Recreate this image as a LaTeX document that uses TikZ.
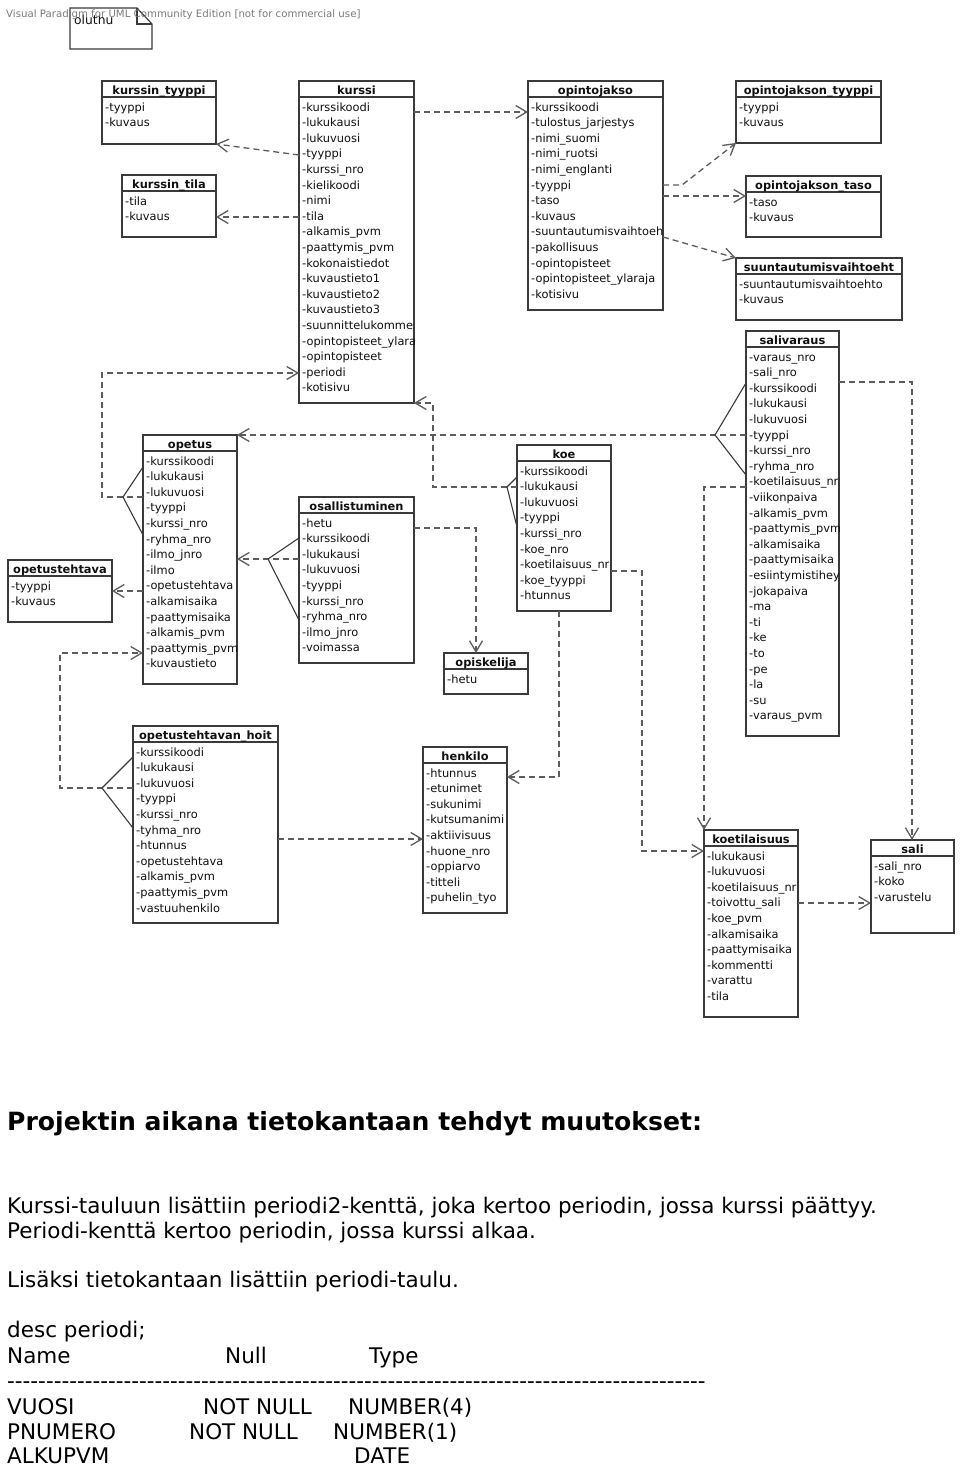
\documentclass[tikz,border=0pt]{standalone}
\usepackage{fontspec}
\setmainfont{DejaVu Sans}
\usetikzlibrary{arrows.meta}
\definecolor{boxline}{HTML}{3A3A3A}
\definecolor{connline}{HTML}{5C5C5C}
\definecolor{txt}{HTML}{101010}
\definecolor{wm}{HTML}{7A7A7A}
\newdimen\titlew
\newcommand\clsfont{\fontsize{11.4}{13}\selectfont}
\newcommand\clstitlefont{\fontsize{11.4}{13}\selectfont\bfseries}
\newcommand\bodyfont{\fontsize{21.5}{25}\selectfont}
\newcommand\dashrow{\foreach \k in {1,...,90}{-\relax}}
\tikzset{
  classbox/.style={draw=boxline, line width=1.3pt, fill=white, inner sep=0pt, outer sep=0pt, rectangle},
  classsep/.style={draw=boxline, line width=1.3pt},
  attr/.style={anchor=base west, inner sep=0pt, font=\clsfont, text=txt},
  ctitle/.style={anchor=base, inner sep=0pt, font=\clstitlefont, text=txt},
  conn/.style={draw=connline, line width=1.3pt, dash pattern=on 6pt off 4pt, -{Straight Barb[length=11pt,width=13pt]}},
  fork/.style={draw=boxline, line width=1.1pt},
  body/.style={anchor=base west, inner sep=0pt, font=\bodyfont, text=black},
}
\newcommand\umlclass[7]{%
  \node[classbox, minimum width={#4-#2}, minimum height={#5-#3}, anchor=north west] (#1) at (#2,#3) {};
  \draw[classsep] (#2,#3+16) -- (#4,#3+16);
  \begin{scope}
    \clip (#2,#3) rectangle (#4,#5);
    \setbox0\hbox{\clstitlefont #6}\titlew=\wd0
    \pgfmathsetmacro\tcx{max((#2+#4)/2,#2+15+0.5*\titlew)}
    \node[ctitle] (#1-title) at (\tcx,#3+13) {#6};
    \foreach \a [count=\i from 0] in {#7}{
      \node[attr] (#1-a\i) at (#2+3,#3+30+15.6*\i) {\a};
    }
  \end{scope}
}
\begin{document}
\begin{tikzpicture}[x=1pt,y=-1pt]
\fill[white] (0,0) rectangle (960,1467);
\useasboundingbox (0,0) rectangle (960,1467);

% note
\draw[boxline, line width=1.2pt, fill=white] (70,8) -- (137,8) -- (152,24) -- (152,49) -- (70,49) -- cycle;
\draw[boxline, line width=1.1pt] (137,8) -- (137,24) -- (152,24);
\node[anchor=base west, inner sep=0pt, font=\fontsize{12.3}{14}\selectfont, text=txt] (note) at (74,24) {oluthu};

% classes
\umlclass{kurssinTyyppi}{102}{81}{216}{144}{kurssin\_tyyppi}{-tyyppi,-kuvaus}
\umlclass{kurssinTila}{122}{175}{216}{237}{kurssin\_tila}{-tila,-kuvaus}
\umlclass{kurssi}{299}{81}{414}{403}{kurssi}{-kurssikoodi,-lukukausi,-lukuvuosi,-tyyppi,-kurssi\_nro,-kielikoodi,-nimi,-tila,-alkamis\_pvm,-paattymis\_pvm,-kokonaistiedot,-kuvaustieto1,-kuvaustieto2,-kuvaustieto3,-suunnittelukomme,-opintopisteet\_ylara,-opintopisteet,-periodi,-kotisivu}
\umlclass{opintojakso}{528}{81}{663}{310}{opintojakso}{-kurssikoodi,-tulostus\_jarjestys,-nimi\_suomi,-nimi\_ruotsi,-nimi\_englanti,-tyyppi,-taso,-kuvaus,-suuntautumisvaihtoeh,-pakollisuus,-opintopisteet,-opintopisteet\_ylaraja,-kotisivu}
\umlclass{ojTyyppi}{736}{81}{881}{143}{opintojakson\_tyyppi}{-tyyppi,-kuvaus}
\umlclass{ojTaso}{746}{176}{881}{237}{opintojakson\_taso}{-taso,-kuvaus}
\umlclass{suunt}{736}{258}{902}{320}{suuntautumisvaihtoeht}{-suuntautumisvaihtoehto,-kuvaus}
\umlclass{salivaraus}{746}{331}{839}{736}{salivaraus}{-varaus\_nro,-sali\_nro,-kurssikoodi,-lukukausi,-lukuvuosi,-tyyppi,-kurssi\_nro,-ryhma\_nro,-koetilaisuus\_nr,-viikonpaiva,-alkamis\_pvm,-paattymis\_pvm,-alkamisaika,-paattymisaika,-esiintymistihey,-jokapaiva,-ma,-ti,-ke,-to,-pe,-la,-su,-varaus\_pvm}
\umlclass{opetus}{143}{435}{237}{684}{opetus}{-kurssikoodi,-lukukausi,-lukuvuosi,-tyyppi,-kurssi\_nro,-ryhma\_nro,-ilmo\_jnro,-ilmo,-opetustehtava,-alkamisaika,-paattymisaika,-alkamis\_pvm,-paattymis\_pvm,-kuvaustieto}
\umlclass{opetustehtava}{8}{560}{112}{622}{opetustehtava}{-tyyppi,-kuvaus}
\umlclass{osallistuminen}{299}{497}{414}{663}{osallistuminen}{-hetu,-kurssikoodi,-lukukausi,-lukuvuosi,-tyyppi,-kurssi\_nro,-ryhma\_nro,-ilmo\_jnro,-voimassa}
\umlclass{opiskelija}{444}{653}{528}{694}{opiskelija}{-hetu}
\umlclass{koe}{517}{445}{611}{611}{koe}{-kurssikoodi,-lukukausi,-lukuvuosi,-tyyppi,-kurssi\_nro,-koe\_nro,-koetilaisuus\_nr,-koe\_tyyppi,-htunnus}
\umlclass{hoito}{133}{726}{278}{923}{opetustehtavan\_hoit}{-kurssikoodi,-lukukausi,-lukuvuosi,-tyyppi,-kurssi\_nro,-tyhma\_nro,-htunnus,-opetustehtava,-alkamis\_pvm,-paattymis\_pvm,-vastuuhenkilo}
\umlclass{henkilo}{423}{747}{507}{913}{henkilo}{-htunnus,-etunimet,-sukunimi,-kutsumanimi,-aktiivisuus,-huone\_nro,-oppiarvo,-titteli,-puhelin\_tyo}
\umlclass{koetilaisuus}{704}{830}{798}{1017}{koetilaisuus}{-lukukausi,-lukuvuosi,-koetilaisuus\_nr,-toivottu\_sali,-koe\_pvm,-alkamisaika,-paattymisaika,-kommentti,-varattu,-tila}
\umlclass{sali}{871}{840}{954}{933}{sali}{-sali\_nro,-koko,-varustelu}

% fork points
\coordinate (f1) at (123,497);
\coordinate (f2) at (507,487);
\coordinate (f3) at (715,435);
\coordinate (f4) at (268,559);
\coordinate (f5) at (102,788);

% connectors
\draw[conn] (kurssi.west |- 0,155) -- (kurssinTyyppi.south east);
\draw[conn] (kurssi.west |- 0,217) -- (kurssinTila.east |- 0,217);
\draw[conn] (kurssi.east |- 0,112) -- (opintojakso.west |- 0,112);
\draw[conn] (opintojakso.east |- 0,185) -- (682,185) -- (ojTyyppi.south west);
\draw[conn] (opintojakso.east |- 0,196) -- (ojTaso.west |- 0,196);
\draw[conn] (opintojakso.east |- 0,237) -- (suunt.north west);
\draw[conn] (opetus.west |- f1) -- (102,497) -- (102,373) -- (kurssi.west |- 0,373);
\draw[fork] (opetus.west |- 0,467) -- (f1) -- (opetus.west |- 0,535);
\draw[conn] (koe.west |- f2) -- (433,487) -- (433,403) -- (kurssi.south east);
\draw[fork] (koe.west |- 0,477) -- (f2) -- (koe.west |- 0,527);
\draw[conn] (salivaraus.west |- f3) -- (opetus.north east);
\draw[fork] (salivaraus.west |- 0,383) -- (f3) -- (salivaraus.west |- 0,475);
\draw[conn] (osallistuminen.west |- f4) -- (opetus.east |- f4);
\draw[fork] (osallistuminen.west |- 0,538) -- (f4) -- (osallistuminen.west |- 0,620);
\draw[conn] (opetus.west |- 0,591) -- (opetustehtava.east |- 0,591);
\draw[conn] (hoito.west |- f5) -- (60,788) -- (60,653) -- (opetus.west |- 0,653);
\draw[fork] (hoito.west |- 0,757) -- (f5) -- (hoito.west |- 0,828);
\draw[conn] (hoito.east |- 0,839) -- (henkilo.west |- 0,839);
\draw[conn] (osallistuminen.east |- 0,528) -- (476,528) -- (476,0 |- opiskelija.north);
\draw[conn] (559,0 |- koe.south) -- (559,777) -- (henkilo.east |- 0,777);
\draw[conn] (koe.east |- 0,571) -- (642,571) -- (642,851) -- (koetilaisuus.west |- 0,851);
\draw[conn] (salivaraus.west |- 0,487) -- (704,487) -- (koetilaisuus.north west);
\draw[conn] (salivaraus.east |- 0,382) -- (912,382) -- (912,0 |- sali.north);
\draw[conn] (koetilaisuus.east |- 0,903) -- (sali.west |- 0,903);

% watermark
\node[anchor=base west, inner sep=0pt, font=\fontsize{10.2}{12}\selectfont, text=wm] (watermark) at (6,17) {Visual Paradigm for UML Community Edition [not for commercial use]};

% bottom text
\node[anchor=base west, inner sep=0pt, font=\fontsize{25.1}{29}\selectfont\bfseries] (heading) at (7,1130) {Projektin aikana tietokantaan tehdyt muutokset:};
\node[body] (line1) at (7,1213) {Kurssi-tauluun lisättiin periodi2-kenttä, joka kertoo periodin, jossa kurssi päättyy.};
\node[body] (line2) at (7,1238) {Periodi-kenttä kertoo periodin, jossa kurssi alkaa.};
\node[body] (line3) at (7,1287) {Lisäksi tietokantaan lisättiin periodi-taulu.};
\node[body] (line4) at (7,1337) {desc periodi;};
\node[body] (hName) at (7,1363) {Name};
\node[body] (hNull) at (225,1363) {Null};
\node[body] (hType) at (369,1363) {Type};
\node[body] (dashes) at (7,1388) {\dashrow};
\node[body] (r1a) at (7,1414) {VUOSI};
\node[body] (r1b) at (203,1414) {NOT NULL};
\node[body] (r1c) at (348,1414) {NUMBER(4)};
\node[body] (r2a) at (7,1439) {PNUMERO};
\node[body] (r2b) at (189,1439) {NOT NULL};
\node[body] (r2c) at (333,1439) {NUMBER(1)};
\node[body] (r3a) at (7,1463) {ALKUPVM};
\node[body] (r3c) at (354,1463) {DATE};
\end{tikzpicture}
\end{document}
